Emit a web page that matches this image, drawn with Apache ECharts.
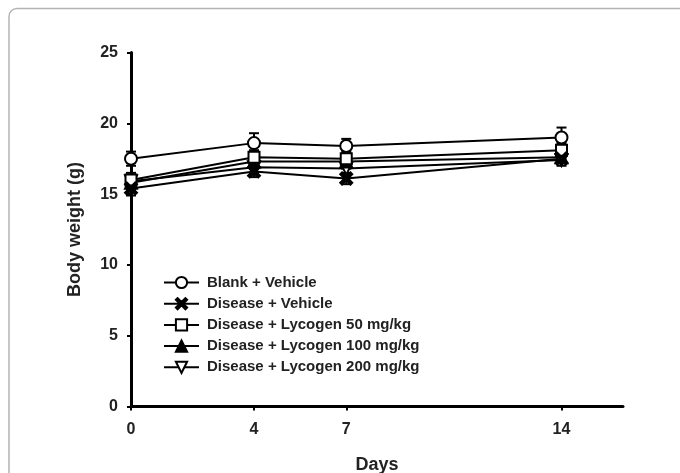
<!DOCTYPE html>
<html>
<head>
<meta charset="utf-8">
<script src="https://cdn.jsdelivr.net/npm/echarts@6/dist/echarts.min.js"></script>
<style>html,body{margin:0;padding:0;background:#fff;}#c{width:680px;height:473px;}</style>
</head>
<body>
<div id="c"></div>
<script>
var days = [0, 4, 7, 14];
var xTicks = [0, 4, 7, 14];
var seriesNames = ['Blank + Vehicle', 'Disease + Vehicle', 'Disease + Lycogen 50 mg/kg', 'Disease + Lycogen 100 mg/kg', 'Disease + Lycogen 200 mg/kg'];
var blankVehicle = [17.5, 18.6, 18.4, 19.0];
var diseaseVehicle = [15.4, 16.6, 16.1, 17.5];
var lyco50 = [16.0, 17.6, 17.5, 18.1];
var lyco100 = [15.8, 17.3, 17.3, 17.6];
var lyco200 = [15.9, 16.9, 16.8, 17.4];
var errBlank = [0.5, 0.7, 0.5, 0.7];
var errVehicle = [0.5, 0.4, 0.4, 0.3];
var errL50 = [0.5, 0.5, 0.5, 0.5];
var errL100 = [0.5, 0.5, 0.5, 0.4];
var errL200 = [0.4, 0.4, 0.4, 0.4];

var values = [blankVehicle, diseaseVehicle, lyco50, lyco100, lyco200];
var errors = [errBlank, errVehicle, errL50, errL100, errL200];
var crossPath = 'path://M0,1.5 L1.5,0 L5,3.5 L8.5,0 L10,1.5 L6.5,5 L10,8.5 L8.5,10 L5,6.5 L1.5,10 L0,8.5 L3.5,5 Z';
var symbols = ['circle', crossPath, 'rect', 'triangle', 'path://M0,0 L10,0 L5,9 Z'];
var fills = ['#fff', '#000', '#fff', '#000', '#fff'];
var sizes = [12, 12, 11, 12, 12];

var font = 'Liberation Sans, Arial, sans-serif';
var series = [];
values.forEach(function (vals, i) {
  var errData = days.map(function (d, j) { return [d, vals[j] - errors[i][j], vals[j] + errors[i][j]]; });
  series.push({
    type: 'custom',
    name: seriesNames[i] + ' err',
    data: errData,
    z: 1,
    silent: true,
    renderItem: function (params, api) {
      var x = api.value(0);
      var lo = api.coord([x, api.value(1)]);
      var hi = api.coord([x, api.value(2)]);
      var w = 5;
      var st = { stroke: '#000', lineWidth: 2 };
      return {
        type: 'group',
        children: [
          { type: 'line', shape: { x1: lo[0], y1: lo[1], x2: hi[0], y2: hi[1] }, style: st },
          { type: 'line', shape: { x1: lo[0] - w, y1: lo[1], x2: lo[0] + w, y2: lo[1] }, style: st },
          { type: 'line', shape: { x1: hi[0] - w, y1: hi[1], x2: hi[0] + w, y2: hi[1] }, style: st }
        ]
      };
    }
  });
});
values.forEach(function (vals, i) {
  series.push({
    type: 'line',
    name: seriesNames[i],
    data: days.map(function (d, j) { return [d, vals[j]]; }),
    symbol: symbols[i],
    symbolSize: sizes[i],
    showAllSymbol: true,
    z: 10 - i,
    lineStyle: { color: '#000', width: 2 },
    itemStyle: { color: fills[i], borderColor: '#000', borderWidth: 2 },
    emphasis: { disabled: true }
  });
});

var chart = echarts.init(document.getElementById('c'));
chart.setOption({
  animation: false,
  backgroundColor: '#fff',
  graphic: [{
    type: 'rect',
    shape: { x: 9, y: 8.5, width: 720, height: 520, r: 8 },
    style: { fill: 'none', stroke: '#b4b4b4', lineWidth: 1.5 },
    z: -10
  }],
  grid: { left: 131, right: 57, top: 52.5, bottom: 66.5, outerBoundsMode: 'none', containLabel: false },
  legend: {
    data: seriesNames,
    orient: 'vertical',
    left: 163,
    top: 275,
    padding: 0,
    itemWidth: 35,
    itemHeight: 14,
    itemGap: 6.2,
    textStyle: { fontFamily: font, fontWeight: 'bold', fontSize: 15, color: '#222', padding: [0, 0, 0, 3] },
    selectedMode: false
  },
  xAxis: {
    type: 'value',
    min: 0,
    max: 16,
    name: 'Days',
    nameLocation: 'middle',
    nameGap: 50,
    nameTextStyle: { fontFamily: font, fontWeight: 'bold', fontSize: 18, color: '#222' },
    splitLine: { show: false },
    axisLine: { show: true, lineStyle: { color: '#000', width: 3 } },
    axisTick: { show: true, length: 4, lineStyle: { color: '#000', width: 2 }, customValues: xTicks },
    axisLabel: { customValues: xTicks, fontFamily: font, fontWeight: 'bold', fontSize: 16, color: '#222', margin: 15 }
  },
  yAxis: {
    type: 'value',
    min: 0,
    max: 25,
    interval: 5,
    name: 'Body weight (g)',
    nameLocation: 'middle',
    nameGap: 47,
    nameTextStyle: { fontFamily: font, fontWeight: 'bold', fontSize: 18, color: '#222' },
    splitLine: { show: false },
    axisLine: { show: true, lineStyle: { color: '#000', width: 3 } },
    axisTick: { show: true, length: 4, lineStyle: { color: '#000', width: 2 } },
    axisLabel: { fontFamily: font, fontWeight: 'bold', fontSize: 16, color: '#222', margin: 13 }
  },
  series: series
});
</script>
</body>
</html>
